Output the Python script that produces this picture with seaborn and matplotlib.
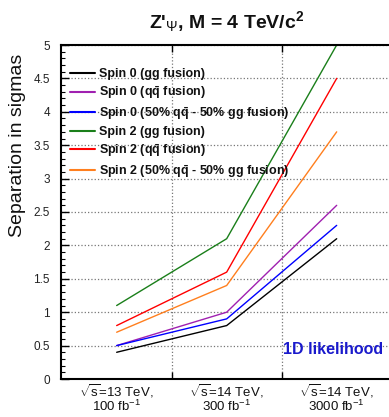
import matplotlib
matplotlib.use("Agg")
import matplotlib.pyplot as plt
import seaborn as sns
import pandas as pd
import numpy as np
from matplotlib.ticker import MultipleLocator, FixedLocator

sns.set_theme(style="white")
plt.rcParams['font.family'] = ['Liberation Sans', 'DejaVu Sans']
plt.rcParams['mathtext.fontset'] = 'custom'
plt.rcParams['mathtext.rm'] = 'Liberation Sans'
plt.rcParams['mathtext.it'] = 'Liberation Sans:italic'
plt.rcParams['mathtext.bf'] = 'Liberation Sans:bold'

# ---- data ----
scenarios = [r"$\sqrt{\mathrm{s}}$=13 TeV," + "\n" + r"100 fb$^{\mathrm{-1}}$",
             r"$\sqrt{\mathrm{s}}$=14 TeV," + "\n" + r"300 fb$^{\mathrm{-1}}$",
             r"$\sqrt{\mathrm{s}}$=14 TeV," + "\n" + r"3000 fb$^{\mathrm{-1}}$"]
series_names = [r"Spin 0 (gg fusion)",
                r"Spin 0 ($\mathbf{q\bar{q}}$ fusion)",
                r"Spin 0 (50% $\mathbf{q\bar{q}}$ - 50% gg fusion)",
                r"Spin 2 (gg fusion)",
                r"Spin 2 ($\mathbf{q\bar{q}}$ fusion)",
                r"Spin 2 (50% $\mathbf{q\bar{q}}$ - 50% gg fusion)"]
spin0_gg = [0.4, 0.8, 2.1]
spin0_qq = [0.5, 1.0, 2.6]
spin0_mix = [0.5, 0.9, 2.3]
spin2_gg = [1.1, 2.1, 5.0]
spin2_qq = [0.8, 1.6, 4.5]
spin2_mix = [0.7, 1.4, 3.7]
colors = ["#000000", "#a020b0", "#0000ff", "#1a7f1a", "#ff0000", "#ff7f1e"]

all_vals = [spin0_gg, spin0_qq, spin0_mix, spin2_gg, spin2_qq, spin2_mix]
rows = []
for name, vals in zip(series_names, all_vals):
    for i, v in enumerate(vals):
        rows.append({"x": i, "sep": v, "series": name})
df = pd.DataFrame(rows)

fig = plt.figure(figsize=(3.89, 4.17), dpi=100)
ax = fig.add_axes([61/389, 1-379/417, 330.7/389, 334/417])

sns.lineplot(data=df, x="x", y="sep", hue="series", hue_order=series_names,
             palette=colors, linewidth=1.0, ax=ax, legend=True)

ax.set_xlim(-0.506, 2.5)
ax.set_ylim(0, 5)

# x ticks: labels at categories, marks+grid between
ax.xaxis.set_major_locator(FixedLocator([0, 1, 2]))
ax.set_xticklabels(scenarios, fontsize=9.5, color="#111111", linespacing=0.95)
ax.xaxis.set_minor_locator(FixedLocator([0.5, 1.5]))
ax.tick_params(axis='x', which='major', length=0, pad=2)
ax.tick_params(axis='x', which='minor', direction='in', length=5, width=1, top=True, bottom=True, color='black')

ax.set_yticks(np.arange(0, 5.01, 0.5))
ax.yaxis.set_minor_locator(MultipleLocator(0.1))
ax.set_yticklabels(["0", "0.5", "1", "1.5", "2", "2.5", "3", "3.5", "4", "4.5", "5"], fontsize=8.5, color="#222222")
ax.tick_params(axis='y', which='major', direction='in', length=6, width=1, left=True, color='black', pad=8)
ax.tick_params(axis='y', which='minor', direction='in', length=3, width=0.8, left=True, color='black')

ax.grid(False)
ax.grid(True, axis='y', which='major', linestyle=':', color='#777777', linewidth=0.9)
ax.grid(True, axis='x', which='minor', linestyle=':', color='#777777', linewidth=0.9)
ax.set_axisbelow(True)

for s in ax.spines.values():
    s.set_color('black')
    s.set_linewidth(1.5)

ax.set_xlabel("")
ax.set_ylabel("Separation in sigmas", fontsize=14, color="#111111")
ax.yaxis.set_label_coords(-0.105, 0.70)

handles, labels = ax.get_legend_handles_labels()
for h in handles:
    h.set_linewidth(1.5)
leg = ax.legend(handles, labels, loc='upper left', bbox_to_anchor=(70/389, 1-68/417),
                bbox_transform=fig.transFigure, frameon=False,
                prop={'weight': 'bold', 'size': 9}, handlelength=2.0, handletextpad=0.35,
                labelspacing=0.33, borderpad=0, borderaxespad=0)
for t in leg.get_texts():
    t.set_color("#111111")

ax.text(0.974, 0.087, "1D likelihood", transform=ax.transAxes, ha='right', va='center',
        fontsize=11.5, fontweight='bold', color='#1a1acc')

fig.text(227/389, 1-22/417, r"Z'$_{\Psi}$, M = 4 TeV/c$^{\mathbf{2}}$", ha='center', va='center',
         fontsize=14, fontweight='bold', color='#111111')

fig.savefig("out.png", dpi=100)
